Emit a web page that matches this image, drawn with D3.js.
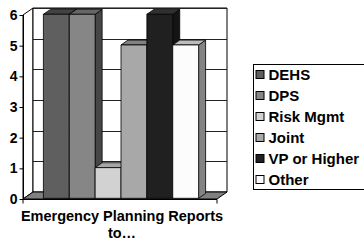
<!DOCTYPE html>
<html>
<head>
<meta charset="utf-8">
<script src="https://cdn.jsdelivr.net/npm/d3@7"></script>
<style>
  html, body { margin: 0; padding: 0; background: #fff; }
  svg { display: block; font-family: "Liberation Sans", Arial, sans-serif; font-weight: bold; }
</style>
</head>
<body>
<div id="chart"></div>
<script>
// Data
const series = ["DEHS", "DPS", "Risk Mgmt", "Joint", "VP or Higher", "Other"];
const values = [6, 6, 1, 5, 6, 5];
const yTicks = [0, 1, 2, 3, 4, 5, 6];
const axisTitle = ["Emergency Planning Reports", "to\u2026"];

// face colours per series: front, top, side
const frontColors = ["#5f5f5f", "#868686", "#d2d2d2", "#a8a8a8", "#202020", "#fcfcfc"];
const topColors = ["#424242", "#666666", "#a6a6a6", "#808080", "#303030", "#bcbcbc"];
const sideColors = ["#383838", "#464646", "#8c8c8c", "#6c6c6c", "#141414", "#848484"];

const width = 364, height = 244;
const plot = { left: 23, right: 217, top: 15, bottom: 199 };
const depth = { dx: 10, dy: -7 };

const svg = d3.select("#chart")
    .append("svg")
    .attr("width", width)
    .attr("height", height);

const xScale = d3.scaleBand()
    .domain(series)
    .range([plot.left, plot.right])
    .paddingInner(0)
    .paddingOuter(0.75);

const yScale = d3.scaleLinear()
    .domain([0, 6])
    .range([plot.bottom, plot.top]);

// project a plane point at depth z (0 = front, 1 = back wall)
function pt(x, y, z) {
    return [x + z * depth.dx, y + z * depth.dy];
}
function poly(points) {
    return points.map(p => p.join(",")).join(" ");
}

// side wall
svg.append("polygon")
    .attr("points", poly([pt(plot.left, plot.bottom, 0), pt(plot.left, plot.bottom, 1),
        pt(plot.left, plot.top, 1), pt(plot.left, plot.top, 0)]))
    .attr("fill", "#fff")
    .attr("stroke", "#000");

// back wall
svg.append("polygon")
    .attr("points", poly([pt(plot.left, plot.bottom, 1), pt(plot.right, plot.bottom, 1),
        pt(plot.right, plot.top, 1), pt(plot.left, plot.top, 1)]))
    .attr("fill", "#fff")
    .attr("stroke", "#000");

// gridlines on the back wall
svg.append("g")
    .selectAll("line")
    .data(yTicks)
    .join("line")
    .attr("x1", plot.left + depth.dx)
    .attr("x2", plot.right + depth.dx)
    .attr("y1", d => Math.round(yScale(d) + depth.dy) + 0.5)
    .attr("y2", d => Math.round(yScale(d) + depth.dy) + 0.5)
    .attr("stroke", "#222");

// floor
svg.append("polygon")
    .attr("points", poly([pt(plot.left, plot.bottom, 0), pt(plot.right, plot.bottom, 0),
        pt(plot.right, plot.bottom, 1), pt(plot.left, plot.bottom, 1)]))
    .attr("fill", "#808080")
    .attr("stroke", "#000");

// bars, left to right so later fronts hide earlier sides
const zf = 0.1, zb = 0.8;
const bars = svg.append("g").selectAll("g")
    .data(series.map((s, i) => ({ name: s, value: values[i], i: i })))
    .join("g");

bars.append("polygon") // side
    .attr("points", d => {
        const x = xScale(d.name) + xScale.bandwidth();
        const y0 = yScale(0), y1 = yScale(d.value);
        return poly([pt(x, y0, zf), pt(x, y0, zb), pt(x, y1, zb), pt(x, y1, zf)]);
    })
    .attr("fill", d => sideColors[d.i])
    .attr("stroke", "#000")
    .attr("stroke-width", 0.8);

bars.append("polygon") // top
    .attr("points", d => {
        const x0 = xScale(d.name), x1 = x0 + xScale.bandwidth();
        const y = yScale(d.value);
        return poly([pt(x0, y, zf), pt(x1, y, zf), pt(x1, y, zb), pt(x0, y, zb)]);
    })
    .attr("fill", d => topColors[d.i])
    .attr("stroke", "#000")
    .attr("stroke-width", 0.8);

bars.append("polygon") // front
    .attr("points", d => {
        const x0 = xScale(d.name), x1 = x0 + xScale.bandwidth();
        const y0 = yScale(0), y1 = yScale(d.value);
        return poly([pt(x0, y0, zf), pt(x1, y0, zf), pt(x1, y1, zf), pt(x0, y1, zf)]);
    })
    .attr("fill", d => frontColors[d.i])
    .attr("stroke", "#000")
    .attr("stroke-width", 0.8);

// y axis
const yAxis = svg.append("g")
    .attr("transform", `translate(${plot.left + 0.5},0)`)
    .call(d3.axisLeft(yScale).tickValues(yTicks).tickFormat(d3.format("d")).tickSize(4).tickPadding(2));
yAxis.select(".domain").attr("stroke", "#000").attr("d", `M0,${plot.bottom}V${plot.top}`);
yAxis.selectAll("text")
    .attr("font-size", 14)
    .attr("font-weight", "bold")
    .attr("font-family", "Liberation Sans, Arial, sans-serif")
    .attr("fill", "#000");

// x axis line with end ticks
svg.append("path")
    .attr("d", `M${plot.left},${plot.bottom + 4.5}V${plot.bottom + 0.5}H${plot.right}V${plot.bottom + 4.5}`)
    .attr("fill", "none")
    .attr("stroke", "#000");

// axis title
svg.append("text")
    .attr("x", (plot.left + plot.right) / 2 + 2)
    .attr("y", 221)
    .attr("text-anchor", "middle")
    .attr("font-size", 14.5)
    .selectAll("tspan")
    .data(axisTitle)
    .join("tspan")
    .attr("x", (plot.left + plot.right) / 2 + 2)
    .attr("dy", (d, i) => i === 0 ? 0 : 17)
    .text(d => d);

// legend
const legend = { x: 253.5, y: 64.5, w: 130, h: 125, row: 21, first: 74.5 };
svg.append("rect")
    .attr("x", legend.x)
    .attr("y", legend.y)
    .attr("width", legend.w)
    .attr("height", legend.h)
    .attr("fill", "#fff")
    .attr("stroke", "#000");

const items = svg.append("g").selectAll("g")
    .data(series)
    .join("g")
    .attr("transform", (d, i) => `translate(${legend.x + 2},${legend.first + i * legend.row})`);

items.append("rect")
    .attr("x", 0.5)
    .attr("y", -4)
    .attr("width", 8)
    .attr("height", 8)
    .attr("fill", (d, i) => frontColors[i])
    .attr("stroke", "#000");

items.append("text")
    .attr("x", 13)
    .attr("y", 5.5)
    .attr("font-size", 15)
    .text(d => d);
</script>
</body>
</html>
